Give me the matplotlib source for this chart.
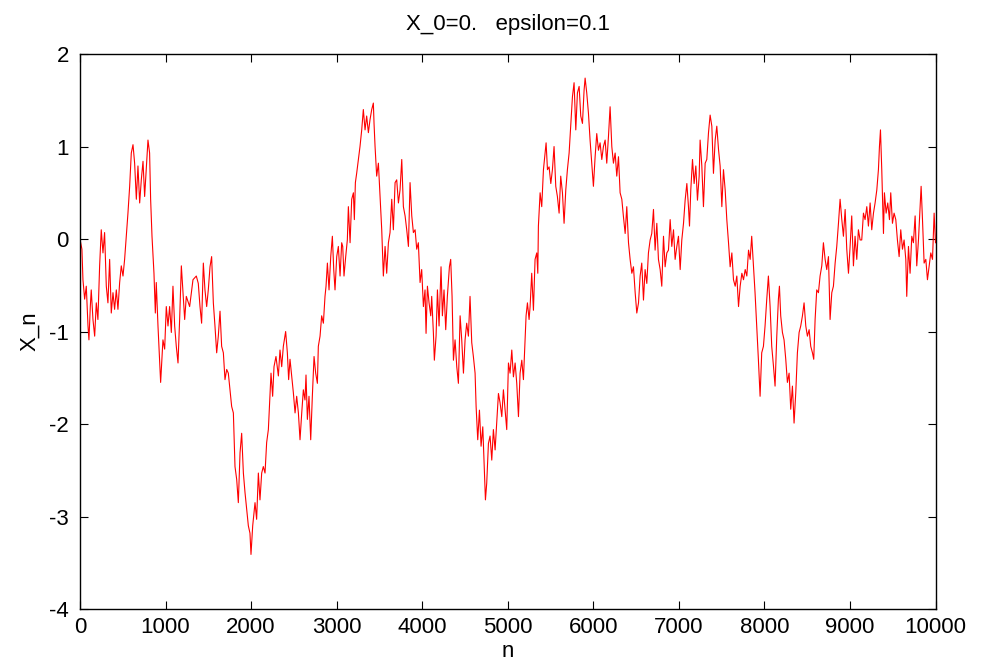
import matplotlib
matplotlib.use("Agg")
import matplotlib.pyplot as plt

# values (step n, X_n)
n_vals = [0, 23, 35, 55, 74, 94, 105, 121, 132, 152, 172, 191, 210, 230, 249, 269, 288, 308, 327, 347,
          366, 386, 405, 425, 444, 464, 483, 503, 522, 542, 561, 581, 600, 620, 639, 659, 678, 698, 717, 737,
          756, 775, 795, 814, 826, 842, 865, 881, 892, 912, 931, 943, 970, 990, 1009, 1029, 1048, 1068, 1087, 1107,
          1126, 1146, 1165, 1185, 1204, 1224, 1243, 1282, 1321, 1360, 1383, 1403, 1422, 1442, 1461, 1481, 1500, 1520, 1539, 1559,
          1578, 1598, 1617, 1637, 1656, 1676, 1695, 1715, 1734, 1754, 1773, 1793, 1812, 1832, 1851, 1871, 1890, 1910, 1929, 1949,
          1968, 1987, 1999, 2019, 2046, 2065, 2085, 2104, 2124, 2143, 2163, 2182, 2202, 2221, 2233, 2252, 2268, 2291, 2319, 2338,
          2358, 2377, 2404, 2424, 2439, 2455, 2475, 2494, 2514, 2533, 2553, 2572, 2592, 2611, 2630, 2642, 2658, 2677, 2697, 2716,
          2736, 2755, 2775, 2786, 2806, 2825, 2845, 2864, 2876, 2892, 2911, 2931, 2950, 2966, 2981, 3001, 3020, 3040, 3059, 3071,
          3086, 3106, 3125, 3137, 3157, 3176, 3196, 3207, 3219, 3234, 3254, 3273, 3293, 3312, 3332, 3351, 3371, 3390, 3410, 3429,
          3437, 3449, 3468, 3488, 3507, 3527, 3546, 3566, 3585, 3605, 3624, 3644, 3663, 3683, 3702, 3722, 3741, 3761, 3780, 3800,
          3819, 3839, 3858, 3878, 3897, 3917, 3936, 3955, 3975, 3994, 4014, 4033, 4045, 4061, 4080, 4100, 4111, 4131, 4142, 4162,
          4178, 4197, 4220, 4236, 4255, 4275, 4294, 4318, 4333, 4349, 4365, 4384, 4404, 4423, 4443, 4462, 4482, 4501, 4520, 4540,
          4559, 4579, 4598, 4618, 4630, 4649, 4669, 4688, 4708, 4723, 4739, 4754, 4774, 4793, 4813, 4832, 4852, 4871, 4891, 4910,
          4930, 4949, 4969, 4988, 5008, 5027, 5047, 5066, 5086, 5105, 5125, 5144, 5164, 5183, 5203, 5214, 5230, 5249, 5261, 5280,
          5300, 5319, 5339, 5351, 5358, 5378, 5397, 5417, 5436, 5448, 5464, 5483, 5503, 5522, 5541, 5561, 5580, 5600, 5619, 5639,
          5658, 5678, 5697, 5717, 5736, 5756, 5775, 5795, 5814, 5834, 5853, 5873, 5892, 5904, 5923, 5943, 5962, 5982, 6001, 6021,
          6040, 6060, 6079, 6099, 6118, 6138, 6157, 6177, 6196, 6216, 6235, 6255, 6274, 6294, 6313, 6333, 6352, 6372, 6391, 6411,
          6430, 6450, 6469, 6489, 6508, 6528, 6547, 6566, 6586, 6605, 6625, 6644, 6664, 6683, 6703, 6722, 6742, 6761, 6781, 6800,
          6820, 6839, 6859, 6878, 6898, 6917, 6937, 6956, 6976, 6995, 7015, 7034, 7054, 7073, 7093, 7112, 7124, 7139, 7159, 7178,
          7198, 7217, 7237, 7248, 7268, 7287, 7307, 7326, 7346, 7365, 7385, 7404, 7424, 7443, 7463, 7482, 7502, 7521, 7541, 7560,
          7580, 7599, 7619, 7638, 7658, 7677, 7697, 7716, 7736, 7755, 7775, 7794, 7814, 7833, 7851, 7871, 7890, 7910, 7929, 7949,
          7968, 7988, 8007, 8027, 8046, 8066, 8085, 8105, 8124, 8144, 8163, 8175, 8190, 8210, 8229, 8249, 8268, 8288, 8307, 8327,
          8346, 8366, 8385, 8405, 8424, 8444, 8463, 8483, 8502, 8522, 8541, 8561, 8576, 8592, 8611, 8631, 8650, 8670, 8689, 8709,
          8728, 8748, 8767, 8787, 8806, 8826, 8845, 8865, 8884, 8904, 8923, 8943, 8962, 8982, 9001, 9020, 9040, 9059, 9079, 9098,
          9118, 9137, 9157, 9176, 9196, 9215, 9235, 9254, 9274, 9293, 9313, 9332, 9344, 9356, 9371, 9391, 9402, 9422, 9441, 9461,
          9476, 9496, 9515, 9535, 9554, 9574, 9593, 9613, 9632, 9652, 9663, 9683, 9702, 9722, 9741, 9761, 9780, 9800, 9819, 9831,
          9847, 9866, 9886, 9905, 9925, 9944, 9964, 9983, 9999]
x_vals = [0.0, -0.11, -0.44, -0.65, -0.51, -0.94, -1.09, -0.73, -0.55, -0.87, -1.05, -0.69, -0.87, -0.29, 0.10, -0.15, 0.07, -0.51, -0.69, -0.22,
          -0.80, -0.58, -0.76, -0.55, -0.76, -0.47, -0.29, -0.40, -0.22, 0.03, 0.28, 0.57, 0.93, 1.02, 0.82, 0.43, 0.79, 0.39, 0.64, 0.84,
          0.46, 0.75, 1.07, 0.93, 0.43, 0.03, -0.37, -0.80, -0.47, -0.94, -1.30, -1.55, -1.09, -1.19, -0.73, -0.94, -0.73, -1.01, -0.51, -0.94,
          -1.16, -1.34, -0.87, -0.29, -0.58, -0.87, -0.62, -0.73, -0.44, -0.40, -0.48, -0.73, -0.91, -0.26, -0.55, -0.73, -0.55, -0.30, -0.19, -0.69,
          -0.94, -1.23, -1.05, -0.78, -1.16, -1.23, -1.52, -1.41, -1.45, -1.63, -1.81, -1.88, -2.46, -2.60, -2.85, -2.31, -2.10, -2.53, -2.74, -2.92,
          -3.10, -3.18, -3.41, -3.10, -2.85, -3.03, -2.53, -2.82, -2.53, -2.46, -2.53, -2.20, -2.06, -1.70, -1.45, -1.70, -1.38, -1.27, -1.48, -1.20,
          -1.38, -1.16, -1.00, -1.23, -1.52, -1.30, -1.48, -1.66, -1.88, -1.70, -1.88, -2.17, -1.88, -1.63, -1.74, -1.47, -1.95, -1.70, -2.17, -1.70,
          -1.27, -1.45, -1.56, -1.16, -1.05, -0.83, -0.91, -0.62, -0.51, -0.26, -0.55, -0.19, 0.03, -0.33, -0.55, -0.19, -0.08, -0.40, -0.04, -0.08,
          -0.40, -0.19, -0.01, 0.35, -0.04, 0.43, 0.50, 0.21, 0.61, 0.71, 0.86, 1.00, 1.18, 1.40, 1.18, 1.33, 1.15, 1.29, 1.40, 1.47,
          1.25, 1.00, 0.68, 0.82, 0.46, 0.10, -0.40, -0.08, -0.37, -0.04, 0.07, 0.43, 0.10, 0.61, 0.64, 0.39, 0.53, 0.86, 0.35, 0.25,
          0.10, -0.08, 0.61, 0.25, 0.07, 0.10, -0.11, -0.04, -0.47, -0.33, -0.73, -0.55, -1.02, -0.51, -0.69, -0.83, -0.62, -1.02, -1.31, -1.05,
          -0.55, -0.94, -0.30, -0.83, -0.55, -0.98, -0.62, -0.30, -0.22, -0.62, -1.31, -1.09, -1.38, -1.56, -0.83, -1.09, -1.45, -1.09, -0.91, -1.05,
          -0.62, -1.12, -1.27, -1.45, -1.81, -2.17, -1.85, -2.24, -2.03, -2.42, -2.82, -2.64, -2.21, -2.13, -2.39, -2.06, -2.28, -1.99, -1.67, -1.77,
          -1.92, -1.63, -1.85, -2.06, -1.34, -1.45, -1.20, -1.49, -1.34, -1.56, -1.92, -1.45, -1.31, -1.52, -1.09, -0.83, -0.69, -0.87, -0.73, -0.37,
          -0.77, -0.22, -0.15, -0.37, 0.14, 0.50, 0.35, 0.75, 0.93, 1.04, 0.75, 0.78, 0.60, 0.75, 1.00, 0.57, 0.46, 0.28, 0.68, 0.50,
          0.17, 0.53, 0.75, 0.93, 1.22, 1.54, 1.69, 1.18, 1.58, 1.65, 1.33, 1.25, 1.61, 1.74, 1.58, 1.36, 1.07, 0.82, 0.57, 0.89,
          1.14, 0.96, 1.04, 0.86, 1.00, 1.07, 0.82, 1.11, 1.43, 1.00, 0.82, 0.93, 0.68, 0.89, 0.50, 0.43, 0.24, 0.06, 0.35, -0.04,
          -0.22, -0.37, -0.30, -0.58, -0.80, -0.69, -0.40, -0.26, -0.66, -0.33, -0.48, -0.15, -0.01, 0.06, 0.32, -0.12, 0.17, -0.22, -0.33, -0.51,
          0.03, -0.30, -0.15, -0.12, 0.21, -0.08, 0.10, -0.22, -0.08, 0.03, -0.33, -0.01, 0.17, 0.42, 0.60, 0.35, 0.14, 0.53, 0.86, 0.60,
          0.79, 0.42, 0.68, 1.07, 0.79, 0.35, 0.82, 0.86, 1.15, 1.34, 1.22, 0.71, 1.07, 1.22, 0.97, 0.79, 0.35, 0.75, 0.53, 0.21,
          -0.04, -0.30, -0.15, -0.44, -0.51, -0.40, -0.73, -0.51, -0.37, -0.44, -0.33, -0.40, -0.12, -0.22, 0.03, -0.29, -0.58, -0.94, -1.30, -1.70,
          -1.23, -1.16, -0.94, -0.65, -0.40, -0.73, -1.16, -1.37, -1.59, -1.05, -0.65, -0.51, -0.83, -1.01, -1.09, -1.30, -1.55, -1.45, -1.84, -1.59,
          -1.99, -1.66, -1.23, -1.01, -0.94, -0.83, -0.69, -0.94, -1.05, -0.98, -1.16, -1.23, -1.30, -0.87, -0.55, -0.58, -0.40, -0.29, -0.04, -0.22,
          -0.33, -0.19, -0.87, -0.58, -0.51, -0.26, -0.08, 0.17, 0.43, 0.21, 0.03, 0.32, -0.11, -0.37, -0.08, 0.25, -0.29, 0.03, -0.22, 0.10,
          -0.01, -0.01, 0.28, 0.21, 0.35, 0.14, 0.39, 0.10, 0.28, 0.39, 0.53, 0.75, 1.00, 1.18, 0.75, 0.06, 0.50, 0.28, 0.39, 0.21,
          0.50, 0.17, 0.28, 0.21, -0.01, -0.19, 0.10, -0.11, -0.01, -0.22, -0.62, -0.08, -0.37, 0.03, -0.04, 0.25, -0.29, -0.01, 0.35, 0.57,
          0.21, -0.26, -0.22, -0.44, -0.29, -0.15, -0.22, 0.28, -0.04]

x_ticks = [0, 1000, 2000, 3000, 4000, 5000, 6000, 7000, 8000, 9000, 10000]
y_ticks = [-4, -3, -2, -1, 0, 1, 2]

plt.rcParams['font.family'] = ['Liberation Sans', 'DejaVu Sans']
plt.rcParams['axes.unicode_minus'] = False

fig = plt.figure(figsize=(9.81, 6.68), dpi=100)
ax = fig.add_axes([0.0815, 0.0883, 0.8722, 0.8308])
ax.plot(n_vals, x_vals, color='red', linewidth=0.8)
ax.set_xlim(0, 10000)
ax.set_ylim(-4, 2)
ax.set_xticks(x_ticks)
ax.set_yticks(y_ticks)
ax.tick_params(direction='in', top=True, right=True, length=6, width=0.8, labelsize=16)
ax.tick_params(axis='x', pad=6)
ax.tick_params(axis='y', pad=8)
for s in ax.spines.values():
    s.set_linewidth(1.0)
ax.set_title('X_0=0.   epsilon=0.1', fontsize=16, pad=17)
ax.set_xlabel('n', fontsize=16, labelpad=2)
ax.set_ylabel('X_n', fontsize=16, labelpad=6)
fig.savefig('out.png', dpi=100)
